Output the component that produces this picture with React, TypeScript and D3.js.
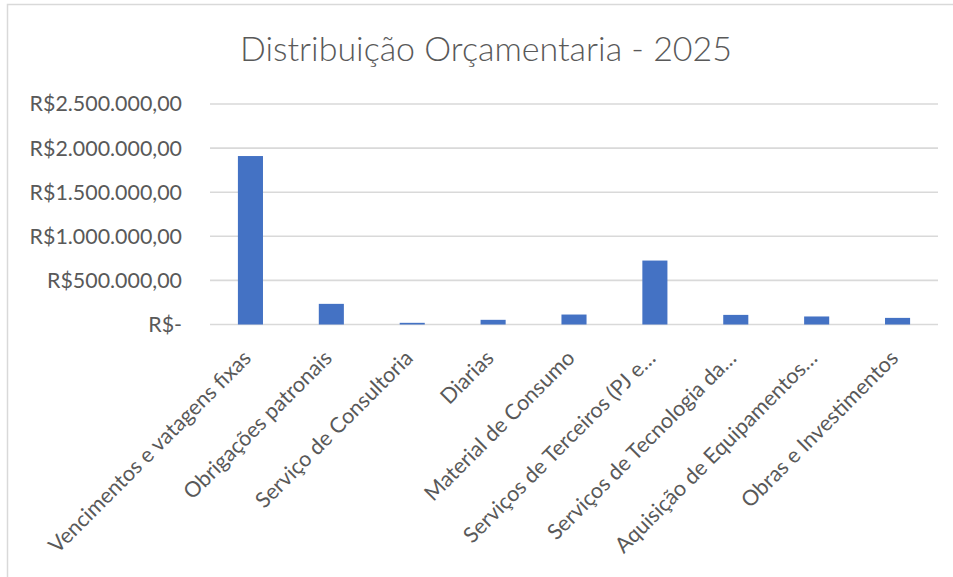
import React from "react";
import * as d3 from "d3";

const categories = [
  "Vencimentos e vatagens fixas",
  "Obrigações patronais",
  "Serviço de Consultoria",
  "Diarias",
  "Material de Consumo",
  "Serviços de Terceiros (PJ e…",
  "Serviços de Tecnologia da…",
  "Aquisição de Equipamentos…",
  "Obras e Investimentos",
];
const values = [1910000, 234000, 19000, 53000, 113000, 725000, 109000, 91000, 75000];
const tickValues = [0, 500000, 1000000, 1500000, 2000000, 2500000];
const tickLabels = ["R$-", "R$500.000,00", "R$1.000.000,00", "R$1.500.000,00", "R$2.000.000,00", "R$2.500.000,00"];
const title = "Distribuição Orçamentaria - 2025";

const W = 953;
const H = 577;
const FONT = "Lato, 'Open Sans', sans-serif";

export default function App() {
  const left = 210;
  const right = 938;
  const top = 104;
  const bottom = 324.5;
  const x = d3.scaleBand<string>().domain(categories).range([left, right]).paddingInner(0.69).paddingOuter(0.345);
  const y = d3.scaleLinear().domain([0, 2500000]).range([bottom, top]);
  const textColor = "#595959";
  const gridColor = "#d9d9d9";
  return (
    <svg width={W} height={H} style={{ position: "absolute", left: 0, top: 0 }} fontFamily={FONT}>
      <rect x={0} y={0} width={W} height={H} fill="#fff" />
      <rect x={7.5} y={4.5} width={W + 20} height={H + 20} fill="none" stroke={gridColor} strokeWidth={1.5} />
      <text x={486} y={61} textAnchor="middle" fontSize={34} fill={textColor} fontWeight={300}>
        {title}
      </text>
      {tickValues.map((v, i) => (
        <g key={v}>
          <line x1={left} x2={right} y1={y(v)} y2={y(v)} stroke={gridColor} strokeWidth={1.6} />
          <text x={182} y={y(v)} dy="0.35em" textAnchor="end" fontSize={21.4} fill={textColor}>
            {tickLabels[i]}
          </text>
        </g>
      ))}
      {categories.map((c, i) => (
        <rect
          key={c}
          x={x(c)!}
          y={y(values[i])}
          width={x.bandwidth()}
          height={bottom - y(values[i])}
          fill="#4472C4"
        />
      ))}
      {categories.map((c) => {
        const cx = x(c)! + x.bandwidth() / 2;
        return (
          <text
            key={c}
            transform={`translate(${cx + 2},${bottom + 35}) rotate(-45)`}
            textAnchor="end"
            fontSize={21.5}
            fill={textColor}
          >
            {c}
          </text>
        );
      })}
    </svg>
  );
}
